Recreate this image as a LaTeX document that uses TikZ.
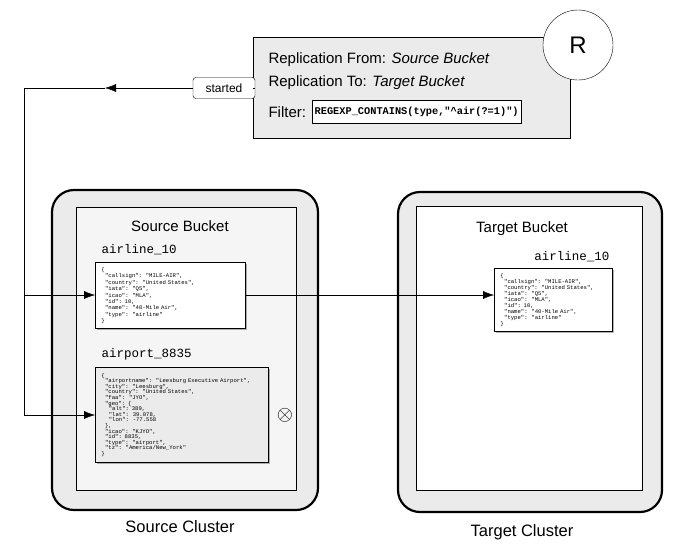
\documentclass[tikz,border=0pt]{standalone}
\usepackage{fontspec}
\setmainfont{Liberation Sans}
\setmonofont{Liberation Mono}
\usetikzlibrary{positioning,shadows,arrows.meta}
\begin{document}
\begin{tikzpicture}[x=1pt,y=-1pt,
    cluster/.style={draw,line width=2.2pt,rounded corners=22pt,fill=black!8},
    bucket/.style={draw,thin},
    doc/.style={draw,thick,drop shadow={shadow xshift=1.5pt,shadow yshift=-1.5pt,fill=black!60},
      align=left,anchor=north west,inner xsep=6pt,inner ysep=5pt},
    json/.style={font=\ttfamily\fontsize{5.6}{#1}\selectfont},
    lbl/.style={font=\fontsize{15}{17}\selectfont},
    key/.style={font=\ttfamily\fontsize{12.5}{14}\selectfont},
    arr/.style={-{Latex[length=11pt,width=8pt]},thin}]
    \useasboundingbox (0,0) rectangle (684,555);

    % Clusters
    \draw[cluster] (52,190) rectangle (318,510);
    \draw[bucket,fill=black!4] (76,207) rectangle (296,490);
    \draw[cluster] (398,192) rectangle (662,512);
    \draw[bucket,fill=white] (416,206) rectangle (642,490);
    \node[lbl] (srclab) at (180,226) {Source Bucket};
    \node[lbl] (tgtlab) at (522,229) {Target Bucket};
    \node[font=\fontsize{16.5}{19}\selectfont] (srccl) at (180,527) {Source Cluster};
    \node[font=\fontsize{16.5}{19}\selectfont] (tgtcl) at (522,532) {Target Cluster};

    % Replication box
    \draw[fill=black!8,thin] (253,37) rectangle (570,138);
    \node[draw,circle,fill=white,minimum size=70pt,inner sep=0pt,font=\fontsize{24}{28}\selectfont] (rep) at (578,45) {R};
    \node[lbl,anchor=west] (from) at (265,60) {Replication From: \textit{Source Bucket}};
    \node[lbl,anchor=west] (to) at (265,83) {Replication To: \textit{Target Bucket}};
    \node[lbl,anchor=west] (filt) at (265,112) {Filter:};
    \node[draw,fill=white,anchor=west,font=\ttfamily\bfseries\fontsize{10.3}{12}\selectfont,minimum height=23pt,inner sep=2.5pt]
      (expr) at (312,112) {REGEXP\_CONTAINS(type,"\^{}air(?=1)")};
    \node[draw,rounded corners=3pt,fill=white,minimum width=62pt,minimum height=21pt,font=\fontsize{12}{14}\selectfont]
      (started) at (224,88) {started};

    % Documents
    \node[key,anchor=south west] (k1) at (98,258) {airline\_10};
    \node[doc,fill=white,text width=138pt,minimum height=63pt,json=6.4] (d1) at (95,262) {\{\\
\ \ "callsign":\ \ "MILE-AIR",\\
\ \ "country":\ \ "United States",\\
\ \ "iata":\ \ "Q5",\\
\ \ "icao":\ \ "MLA",\\
\ \ "id": 10,\\
\ \ "name":\ \ "40-Mile Air",\\
\ \ "type":\ \ "airline"\\
\}};
    \node[key,anchor=south west] (k2) at (98,364) {airport\_8835};
    \node[doc,fill=black!8,text width=161pt,minimum height=95pt,json=5.6] (d2) at (95,367) {\{\\
\ \ "airportname":\ \ "Leesburg Executive Airport",\\
\ \ "city":\ \ "Leesburg",\\
\ \ "country":\ \ "United States",\\
\ \ "faa":\ \ "JYO",\\
\ \ "geo": \{\\
\ \ \ \ "alt": 389,\\
\ \ \ \ "lat":\ \ 39.078,\\
\ \ \ \ "lon":\ \ -77.558\\
\ \ \},\\
\ \ "icao":\ \ "KJYO",\\
\ \ "id": 8835,\\
\ \ "type":\ \ "airport",\\
\ \ "tz":\ \ "America/New\_York"\\
\}};
    \node[font=\fontsize{22}{24}\selectfont] (blocked) at (285,415) {$\otimes$};
    \node[key,anchor=south east] (k3) at (613,265) {airline\_10};
    \node[doc,fill=white,text width=106pt,minimum height=59pt,json=6] (d3) at (494,268) {\{\\
\ \ "callsign":\ \ "MILE-AIR",\\
\ \ "country":\ \ "United States",\\
\ \ "iata":\ \ "Q5",\\
\ \ "icao":\ \ "MLA",\\
\ \ "id": 10,\\
\ \ "name":\ \ "40-Mile Air",\\
\ \ "type":\ \ "airline"\\
\}};

    % Connectors
    \coordinate (corner) at (24,88);
    \coordinate (mid) at (105,88);
    \coordinate (b1) at (24,295);
    \coordinate (b2) at (24,415);
    \draw[thin] (253,88) -- (started.east);
    \draw[arr] (started.west) -- (mid);
    \draw[thin] (mid) -- (corner) -- (b2);
    \draw[arr] (b1) -- (b1 -| d1.west);
    \draw[arr] (b2) -- (b2 -| d2.west);
    \draw[arr] (d1.east |- b1) -- (d3.west |- b1);
\end{tikzpicture}
\end{document}
